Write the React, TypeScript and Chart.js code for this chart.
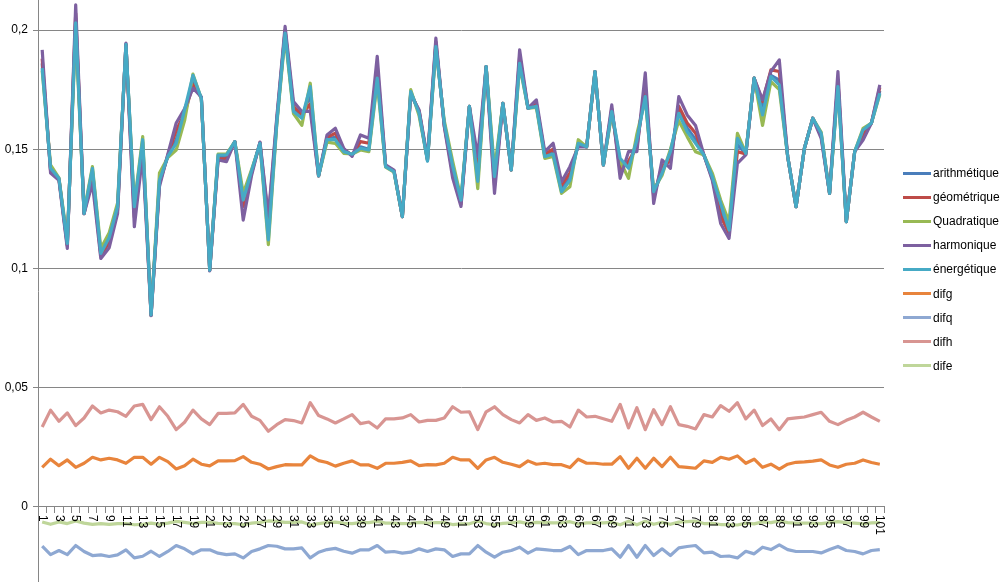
import React, { useEffect, useRef } from "react";
import { Chart, registerables } from "chart.js";

Chart.register(...registerables);

const categories = [
  "1","2","3","4","5","6","7","8","9","10","11","12","13","14","15","16","17","18","19","20",
  "21","22","23","24","25","26","27","28","29","30","31","32","33","34","35","36","37","38","39","40",
  "41","42","43","44","45","46","47","48","49","50","51","52","53","54","55","56","57","58","59","60",
  "61","62","63","64","65","66","67","68","69","70","71","72","73","74","75","76","77","78","79","80",
  "81","82","83","84","85","86","87","88","89","90","91","92","93","94","95","96","97","98","99","100","101",
];

const yTickValues = [0, 0.05, 0.1, 0.15, 0.2];

const arithmetique = [
  0.186, 0.1415, 0.1377, 0.110, 0.205, 0.123, 0.141, 0.106, 0.112, 0.1255,
  0.194, 0.124, 0.153, 0.0804, 0.1365, 0.147, 0.154, 0.1655, 0.179, 0.1715,
  0.0993, 0.147, 0.147, 0.1532, 0.1275, 0.1405, 0.1526, 0.115, 0.161, 0.1995,
  0.1665, 0.1635, 0.173, 0.1388, 0.1545, 0.155, 0.1495, 0.1477, 0.151, 0.150,
  0.182, 0.1428, 0.1408, 0.1217, 0.174, 0.1655, 0.1452, 0.194, 0.1605, 0.142,
  0.128, 0.168, 0.138, 0.1847, 0.137, 0.1693, 0.1413, 0.1875, 0.1672, 0.1685,
  0.1475, 0.149, 0.133, 0.138, 0.1522, 0.151, 0.1826, 0.1434, 0.166, 0.144,
  0.143, 0.153, 0.174, 0.131, 0.141, 0.147, 0.166, 0.159, 0.154, 0.1476,
  0.1382, 0.125, 0.1155, 0.152, 0.1481, 0.1798, 0.167, 0.181, 0.179, 0.147,
  0.1259, 0.1504, 0.163, 0.1562, 0.1315, 0.178, 0.1196, 0.149, 0.157, 0.161, 0.1745,
];

const geometrique = [
  0.188, 0.141, 0.1375, 0.1095, 0.207, 0.123, 0.139, 0.1052, 0.111, 0.1245,
  0.194, 0.1215, 0.151, 0.0803, 0.1355, 0.1475, 0.158, 0.165, 0.177, 0.1717,
  0.0992, 0.146, 0.146, 0.1532, 0.126, 0.140, 0.1528, 0.120, 0.162, 0.200,
  0.168, 0.1645, 0.169, 0.1388, 0.155, 0.1567, 0.150, 0.1475, 0.1532, 0.1525,
  0.185, 0.143, 0.141, 0.1217, 0.1736, 0.166, 0.1455, 0.195, 0.160, 0.140,
  0.127, 0.168, 0.142, 0.1847, 0.135, 0.1693, 0.1413, 0.189, 0.1672, 0.169,
  0.148, 0.150, 0.135, 0.140, 0.152, 0.151, 0.1826, 0.1434, 0.167, 0.141,
  0.145, 0.151, 0.177, 0.130, 0.143, 0.145, 0.168, 0.161, 0.1567, 0.1476,
  0.1378, 0.122, 0.1147, 0.149, 0.148, 0.1798, 0.170, 0.1833, 0.1826, 0.147,
  0.1259, 0.1504, 0.163, 0.1556, 0.1315, 0.179, 0.1196, 0.149, 0.156, 0.161, 0.176,
];

const quadratique = [
  0.183, 0.1434, 0.138, 0.112, 0.200, 0.124, 0.1427, 0.1084, 0.115, 0.1275,
  0.193, 0.127, 0.1553, 0.0807, 0.140, 0.1465, 0.1497, 0.162, 0.1815, 0.1712,
  0.0995, 0.148, 0.148, 0.1532, 0.1315, 0.1415, 0.152, 0.110, 0.160, 0.1975,
  0.165, 0.160, 0.1777, 0.1388, 0.153, 0.1525, 0.1483, 0.148, 0.1497, 0.149,
  0.178, 0.1425, 0.1404, 0.1217, 0.175, 0.164, 0.1455, 0.192, 0.162, 0.145,
  0.1295, 0.168, 0.1335, 0.1847, 0.1413, 0.1693, 0.1413, 0.185, 0.1672, 0.1675,
  0.1462, 0.147, 0.1315, 0.1343, 0.154, 0.151, 0.1826, 0.1434, 0.165, 0.145,
  0.1378, 0.1565, 0.171, 0.133, 0.139, 0.150, 0.162, 0.1553, 0.149, 0.1476,
  0.140, 0.1287, 0.1196, 0.1567, 0.1485, 0.1798, 0.160, 0.1784, 0.175, 0.147,
  0.1259, 0.1504, 0.163, 0.1572, 0.1315, 0.176, 0.1196, 0.149, 0.1588, 0.161, 0.173,
];

const harmonique = [
  0.1917, 0.140, 0.137, 0.1084, 0.2106, 0.123, 0.1357, 0.1042, 0.1087, 0.123,
  0.1945, 0.1175, 0.148, 0.0802, 0.1343, 0.148, 0.161, 0.167, 0.1756, 0.172,
  0.099, 0.1455, 0.1448, 0.1532, 0.1203, 0.139, 0.153, 0.122, 0.163, 0.2015,
  0.170, 0.1658, 0.166, 0.1388, 0.156, 0.1588, 0.1504, 0.147, 0.156, 0.1546,
  0.189, 0.1434, 0.1413, 0.1217, 0.173, 0.1665, 0.146, 0.1966, 0.1595, 0.138,
  0.126, 0.168, 0.147, 0.1847, 0.1315, 0.1693, 0.1413, 0.1917, 0.1672, 0.1707,
  0.149, 0.1525, 0.1364, 0.1427, 0.151, 0.151, 0.1826, 0.1434, 0.1686, 0.1378,
  0.149, 0.149, 0.182, 0.1273, 0.1455, 0.142, 0.1721, 0.1644, 0.160, 0.1476,
  0.137, 0.1189, 0.1126, 0.1441, 0.1476, 0.1798, 0.1707, 0.1826, 0.1875, 0.147,
  0.1259, 0.1504, 0.163, 0.1546, 0.1315, 0.1826, 0.1196, 0.149, 0.1539, 0.161, 0.177,
];

const energetique = [
  0.184, 0.142, 0.1378, 0.1105, 0.203, 0.1231, 0.142, 0.1063, 0.113, 0.126,
  0.194, 0.1259, 0.154, 0.0805, 0.137, 0.147, 0.1525, 0.1665, 0.181, 0.1714,
  0.0993, 0.1476, 0.1476, 0.1532, 0.1287, 0.141, 0.1525, 0.112, 0.161, 0.1987,
  0.1658, 0.163, 0.1763, 0.1388, 0.154, 0.154, 0.149, 0.1479, 0.1504, 0.1497,
  0.1798, 0.1427, 0.1406, 0.1217, 0.1742, 0.1651, 0.145, 0.1931, 0.161, 0.143,
  0.1287, 0.168, 0.1365, 0.1847, 0.1385, 0.1693, 0.1413, 0.186, 0.1672, 0.168,
  0.1469, 0.148, 0.1322, 0.137, 0.1525, 0.151, 0.1826, 0.1434, 0.1658, 0.1462,
  0.142, 0.1539, 0.1721, 0.1322, 0.1399, 0.149, 0.1651, 0.1574, 0.1525, 0.1476,
  0.1385, 0.1273, 0.1161, 0.1546, 0.1483, 0.1798, 0.1644, 0.1805, 0.177, 0.147,
  0.1259, 0.1504, 0.163, 0.1567, 0.1315, 0.1763, 0.1196, 0.149, 0.1581, 0.161, 0.1735,
];

const difg = [
  0.0166, 0.0200, 0.0173, 0.0197, 0.0166, 0.0183, 0.0208, 0.0197, 0.0204, 0.0197,
  0.0183, 0.0208, 0.0208, 0.0179, 0.0208, 0.0190, 0.0159, 0.0173, 0.0200, 0.0179,
  0.0172, 0.0193, 0.0193, 0.0194, 0.0211, 0.0187, 0.0179, 0.0159, 0.0169, 0.0177,
  0.0176, 0.0176, 0.0214, 0.0194, 0.0186, 0.0171, 0.0183, 0.0193, 0.0176, 0.0176,
  0.0162, 0.0183, 0.0183, 0.0187, 0.0193, 0.0173, 0.0177, 0.0176, 0.0183, 0.0208,
  0.0197, 0.0197, 0.0162, 0.0197, 0.0208, 0.0187, 0.0179, 0.0169, 0.0193, 0.0179,
  0.0183, 0.0177, 0.0177, 0.0165, 0.0200, 0.0183, 0.0183, 0.0179, 0.0179, 0.0211,
  0.0162, 0.0204, 0.0162, 0.0204, 0.0169, 0.0208, 0.0169, 0.0166, 0.0162, 0.0193,
  0.0187, 0.0208, 0.0200, 0.0214, 0.0183, 0.0200, 0.0166, 0.0179, 0.0158, 0.0179,
  0.0187, 0.0189, 0.0192, 0.0197, 0.0176, 0.0166, 0.0179, 0.0183, 0.0197, 0.0186, 0.0179,
];

const difq = [
  -0.0165, -0.0200, -0.0183, -0.0200, -0.0162, -0.0187, -0.0204, -0.0201, -0.0208, -0.0201,
  -0.0180, -0.0214, -0.0207, -0.0186, -0.0208, -0.0187, -0.0162, -0.0176, -0.0197, -0.0180,
  -0.0180, -0.0194, -0.0200, -0.0197, -0.0214, -0.0187, -0.0176, -0.0162, -0.0165, -0.0176,
  -0.0176, -0.0172, -0.0214, -0.0190, -0.0179, -0.0174, -0.0186, -0.0194, -0.0180, -0.0180,
  -0.0162, -0.0190, -0.0187, -0.0194, -0.0190, -0.0176, -0.0187, -0.0176, -0.0180, -0.0208,
  -0.0197, -0.0197, -0.0162, -0.0190, -0.0211, -0.0190, -0.0183, -0.0169, -0.0194, -0.0176,
  -0.0179, -0.0183, -0.0183, -0.0166, -0.0200, -0.0183, -0.0183, -0.0183, -0.0176, -0.0211,
  -0.0162, -0.0211, -0.0162, -0.0204, -0.0176, -0.0204, -0.0172, -0.0166, -0.0162, -0.0193,
  -0.0190, -0.0208, -0.0206, -0.0214, -0.0186, -0.0197, -0.0169, -0.0179, -0.0159, -0.0179,
  -0.0187, -0.0187, -0.0187, -0.0193, -0.0179, -0.0166, -0.0183, -0.0187, -0.0197, -0.0183, -0.0179,
];

const difh = [
  0.0335, 0.0406, 0.0359, 0.0394, 0.0341, 0.0373, 0.0423, 0.0394, 0.0406, 0.0399,
  0.0380, 0.0423, 0.0430, 0.0366, 0.0420, 0.0380, 0.0324, 0.0355, 0.0406, 0.0369,
  0.0345, 0.0392, 0.0392, 0.0394, 0.0430, 0.0380, 0.0363, 0.0317, 0.0345, 0.0366,
  0.0362, 0.0352, 0.0437, 0.0383, 0.0369, 0.0352, 0.0369, 0.0387, 0.0349, 0.0356,
  0.0331, 0.0369, 0.0369, 0.0373, 0.0387, 0.0356, 0.0363, 0.0363, 0.0373, 0.0420,
  0.0397, 0.0399, 0.0324, 0.0399, 0.0420, 0.0387, 0.0366, 0.0352, 0.0387, 0.0363,
  0.0373, 0.0356, 0.0359, 0.0335, 0.0406, 0.0377, 0.0380, 0.0370, 0.0359, 0.0430,
  0.0331, 0.0416, 0.0324, 0.0408, 0.0345, 0.0420, 0.0345, 0.0338, 0.0327, 0.0387,
  0.0377, 0.0425, 0.0401, 0.0437, 0.0369, 0.0406, 0.0341, 0.0369, 0.0324, 0.0369,
  0.0373, 0.0377, 0.0387, 0.0397, 0.0359, 0.0345, 0.0363, 0.0377, 0.0397, 0.0377, 0.0359,
];

const dife = [
  -0.0063, -0.0073, -0.0063, -0.0070, -0.0059, -0.0068, -0.0073, -0.0070, -0.0073, -0.0070,
  -0.0070, -0.0075, -0.0073, -0.0068, -0.0073, -0.0068, -0.0061, -0.0065, -0.0070, -0.0065,
  -0.0065, -0.0069, -0.0070, -0.0070, -0.0075, -0.0068, -0.0065, -0.0059, -0.0061, -0.0065,
  -0.0065, -0.0063, -0.0075, -0.0070, -0.0066, -0.0064, -0.0068, -0.0070, -0.0066, -0.0066,
  -0.0061, -0.0068, -0.0068, -0.0070, -0.0069, -0.0065, -0.0068, -0.0066, -0.0066, -0.0074,
  -0.0071, -0.0071, -0.0060, -0.0070, -0.0075, -0.0069, -0.0067, -0.0063, -0.0070, -0.0065,
  -0.0066, -0.0067, -0.0067, -0.0062, -0.0072, -0.0067, -0.0067, -0.0067, -0.0065, -0.0075,
  -0.0060, -0.0075, -0.0060, -0.0073, -0.0065, -0.0073, -0.0064, -0.0062, -0.0060, -0.0070,
  -0.0069, -0.0074, -0.0074, -0.0076, -0.0068, -0.0071, -0.0063, -0.0066, -0.0059, -0.0066,
  -0.0068, -0.0068, -0.0068, -0.0070, -0.0066, -0.0062, -0.0066, -0.0068, -0.0071, -0.0067, -0.0066,
];

const seriesNames = [
  "arithmétique", "géométrique", "Quadratique", "harmonique", "énergétique",
  "difg", "difq", "difh", "dife",
];
const seriesData = [
  arithmetique, geometrique, quadratique, harmonique, energetique,
  difg, difq, difh, dife,
];
const seriesColors = [
  "#4A7EBB", "#BE4B48", "#98B954", "#7D60A0", "#46AAC5",
  "#E8843C", "#8EA8D2", "#D89592", "#BFD69A",
];

const FONT = "'Liberation Sans', Arial, sans-serif";
const GRID = "#868686";

function fmtTick(v: number): string {
  return String(v).replace(".", ",");
}

const xLabelPlugin = {
  id: "rotatedXLabels",
  afterDraw(chart: any) {
    const xs = chart.scales.x;
    const ys = chart.scales.y;
    const ctx = chart.ctx;
    const y0 = ys.getPixelForValue(0);
    ctx.save();
    ctx.font = `12px ${FONT}`;
    ctx.fillStyle = "#000";
    ctx.textAlign = "left";
    ctx.textBaseline = "middle";
    categories.forEach((c, i) => {
      if (i % 2 !== 0) return;
      const px = xs.getPixelForValue(i);
      ctx.save();
      ctx.translate(px, y0 + 8);
      ctx.rotate(Math.PI / 2);
      ctx.fillText(c, 0, 0);
      ctx.restore();
    });
    ctx.restore();
  },
};

export default function App() {
  const canvasRef = useRef<HTMLCanvasElement | null>(null);

  useEffect(() => {
    const canvas = canvasRef.current;
    if (!canvas) return;
    const chart = new Chart(canvas, {
      type: "line",
      data: {
        labels: categories,
        datasets: seriesNames.map((name, i) => ({
          label: name,
          data: seriesData[i],
          borderColor: seriesColors[i],
          backgroundColor: seriesColors[i],
          borderWidth: 3.2,
          pointRadius: 0,
          pointHoverRadius: 0,
          tension: 0,
          fill: false,
          order: 9 - i,
          borderJoinStyle: "round" as const,
        })),
      },
      options: {
        responsive: false,
        devicePixelRatio: 1,
        animation: false,
        events: [],
        layout: { padding: { left: 0, right: 121, top: 0, bottom: 0 } },
        plugins: {
          legend: { display: false },
          tooltip: { enabled: false },
          title: { display: false },
        },
        scales: {
          x: {
            type: "category",
            position: { y: 0 } as any,
            offset: true,
            grid: {
              display: true,
              drawOnChartArea: false,
              drawTicks: true,
              tickLength: 6,
              offset: true,
              color: GRID,
              lineWidth: 1,
            },
            border: { display: true, color: GRID, width: 1 },
            ticks: { display: false, autoSkip: false },
          },
          y: {
            type: "linear",
            position: "left",
            min: -0.0315,
            max: 0.2126,
            afterBuildTicks: (axis: any) => {
              axis.ticks = yTickValues.map((v) => ({ value: v }));
            },
            afterFit: (axis: any) => {
              axis.width = 38;
              axis.paddingTop = 0;
              axis.paddingBottom = 0;
            },
            grid: {
              color: GRID,
              lineWidth: 1,
              drawTicks: true,
              tickLength: 5,
            },
            border: { display: true, color: GRID, width: 1 },
            ticks: {
              padding: 5,
              color: "#000",
              font: { family: FONT, size: 12 },
              callback: (v: any) => fmtTick(Number(v)),
            },
          },
        },
      },
      plugins: [xLabelPlugin],
    });
    return () => chart.destroy();
  }, []);

  return (
    <div style={{ position: "absolute", left: 0, top: 0, width: 1005, height: 582, background: "#fff", overflow: "hidden" }}>
      <canvas ref={canvasRef} width={1005} height={582} style={{ display: "block", width: 1005, height: 582 }} />
      {seriesNames.map((name, i) => (
        <div
          key={name}
          style={{
            position: "absolute",
            left: 903,
            top: 173 + i * 24.1 - 8,
            height: 16,
            display: "flex",
            alignItems: "center",
            fontFamily: FONT,
            fontSize: 12,
            color: "#000",
            whiteSpace: "nowrap",
          }}
        >
          <span style={{ display: "inline-block", width: 28, height: 3, background: seriesColors[i], marginRight: 2 }} />
          <span>{name}</span>
        </div>
      ))}
    </div>
  );
}
